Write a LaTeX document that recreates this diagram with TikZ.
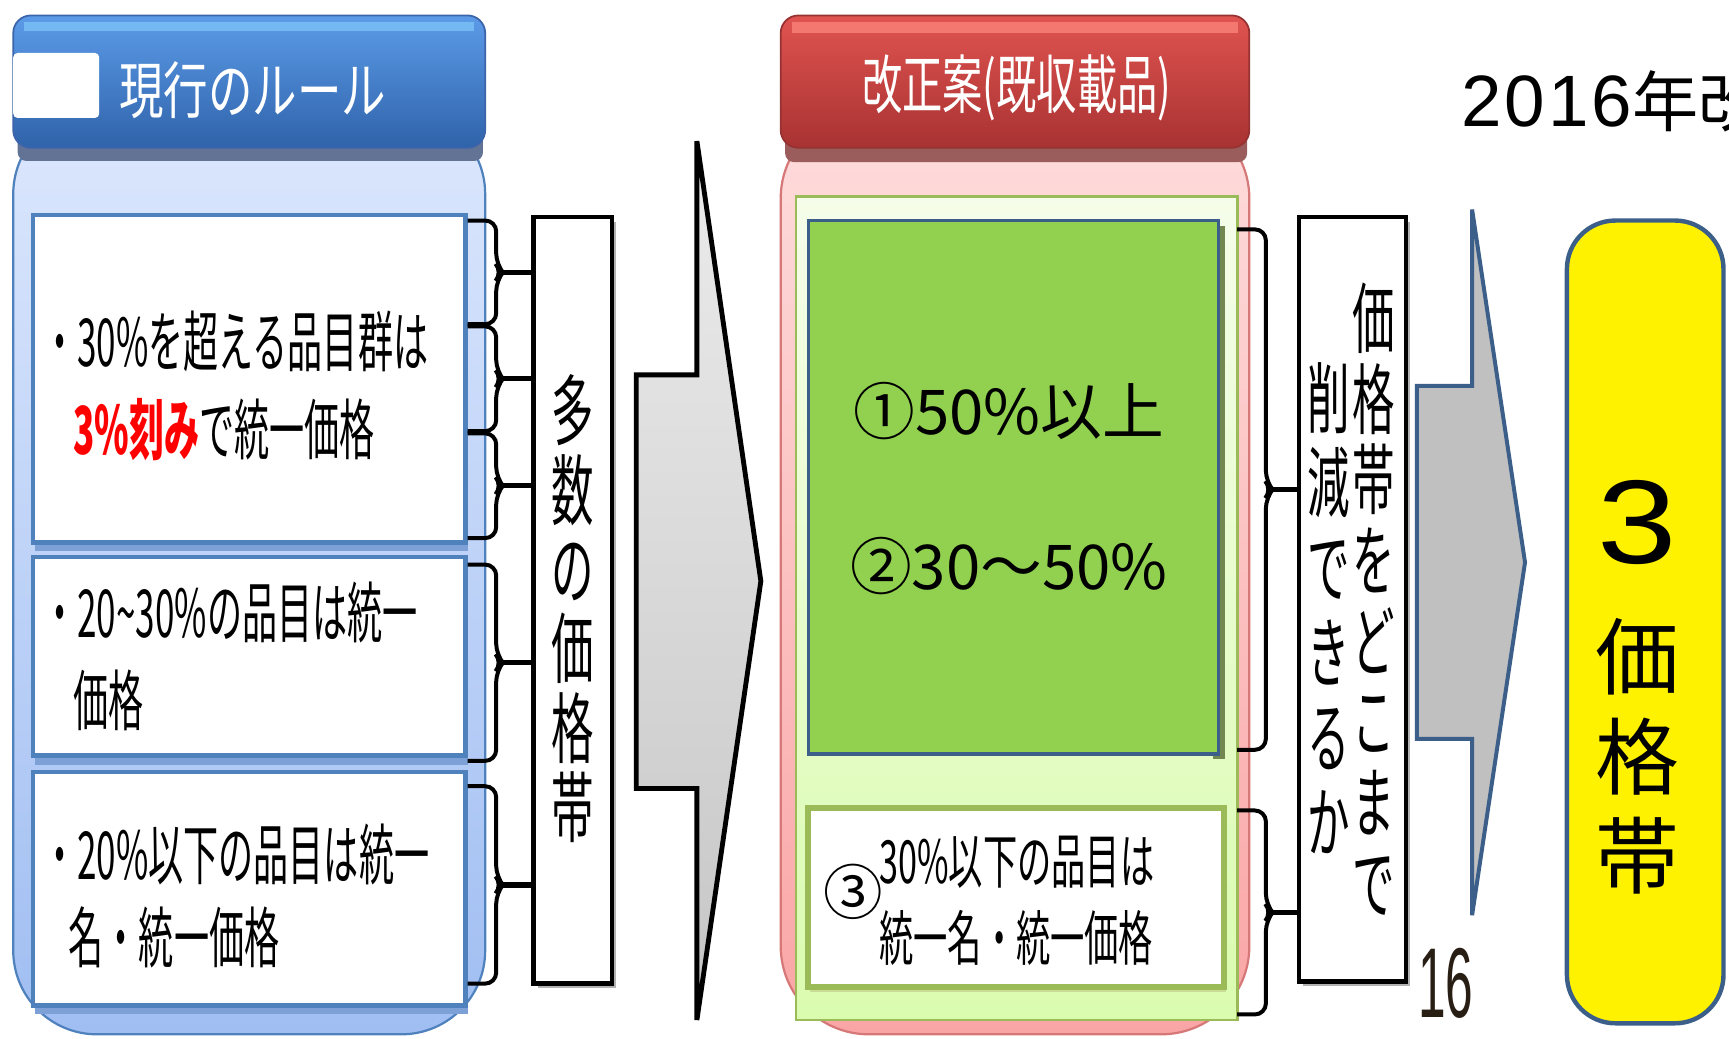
\documentclass[tikz,border=0pt]{standalone}
\usepackage{fontspec}
\setmainfont{Noto Sans CJK JP}
\newfontfamily\cond[FakeStretch=0.53]{Noto Sans CJK JP}
\newfontfamily\condt[FakeStretch=0.575]{Noto Sans CJK JP}
\newfontfamily\condv[FakeStretch=0.55]{Noto Sans CJK JP}
\newfontfamily\condh[FakeStretch=0.72]{Noto Sans CJK JP}
\newfontfamily\condhh[FakeStretch=0.63]{Noto Sans CJK JP}
\newfontfamily\arialf[LetterSpace=4]{Liberation Sans}
\newfontfamily\arialw[FakeStretch=1.2]{Liberation Sans}
\newfontfamily\arialc[FakeStretch=0.5]{Liberation Sans}
\definecolor{boxblue}{HTML}{4F81BD}
\definecolor{darkblue}{HTML}{3C5F8A}
\definecolor{hdrblueT}{HTML}{5C9BE8}
\definecolor{hdrblueB}{HTML}{2F63AA}
\definecolor{hdrredT}{HTML}{E05450}
\definecolor{hdrredB}{HTML}{A83232}
\definecolor{olive}{HTML}{9BBB59}
\definecolor{grassgreen}{HTML}{92D050}
\definecolor{panelblueT}{HTML}{DCE7FD}
\definecolor{panelblueB}{HTML}{A0BEF2}
\definecolor{hdrshadowB}{HTML}{627396}
\definecolor{hdredgeB}{HTML}{3C64AA}
\definecolor{glossB}{HTML}{82C8FA}
\definecolor{boxshadowB}{HTML}{7DA0D7}
\definecolor{pinkT}{HTML}{FEDCDC}
\definecolor{pinkB}{HTML}{FAA5A5}
\definecolor{pinkedge}{HTML}{D77878}
\definecolor{hdrshadowR}{HTML}{9B5C5C}
\definecolor{hdredgeR}{HTML}{963232}
\definecolor{glossR}{HTML}{FA8278}
\definecolor{lgreenT}{HTML}{F5FDEA}
\definecolor{lgreenB}{HTML}{DAFCAF}
\definecolor{greenshadow}{HTML}{738750}
\definecolor{b4shadow}{HTML}{C8DC96}
\definecolor{numbrown}{HTML}{281E14}
\definecolor{arrowgray}{HTML}{C0C0C0}
\tikzset{
  wbox/.style={draw=boxblue, line width=2pt, fill=white, inner sep=0},
  tbox/.style={draw=black, line width=2pt, fill=white, inner sep=0},
  brline/.style={line width=1.8pt, rounded corners=5, black},
  vtext/.style={font=\condv\fontsize{35pt}{36pt}\selectfont, align=center, inner sep=0},
  ltext/.style={font=\cond\fontsize{30pt}{32pt}\selectfont, anchor=west, inner sep=0},
}
\begin{document}
\begin{tikzpicture}[x=0.5pt,y=-0.5pt]
\useasboundingbox (0,0) rectangle (1568,942);
\clip (0,0) rectangle (1568,942);

% ---------- left panel ----------
\shade[top color=panelblueT, bottom color=panelblueB, draw=boxblue, line width=1pt, rounded corners=38]
  (12,100) rectangle (440,938);
\fill[fill=hdrshadowB, rounded corners=4] (16,120) rectangle (438,146);
\shade[top color=hdrblueT, bottom color=hdrblueB, rounded corners=8, draw=hdredgeB, line width=0.8pt]
  (12,14) rectangle (440,134);
\fill[fill=glossB, opacity=0.7] (22,20) rectangle (430,28);
\node[fill=white, inner sep=0, minimum width=39pt, minimum height=29.5pt, rounded corners=2] (wr) at (51,77.5) {};
\node[font=\condh\fontsize{28pt}{30pt}\selectfont, text=white, inner sep=0, anchor=west] (h1) at (108,82) {現行のルール};

% shadows of boxes
\fill[fill=boxshadowB] (32,490) rectangle (424,500);
\fill[fill=boxshadowB] (32,683) rectangle (424,694);
\fill[fill=boxshadowB] (32,910) rectangle (424,920);

\node[wbox, minimum width=196pt, minimum height=148.5pt] (b1) at (226,343.5) {};
\node[wbox, minimum width=196pt, minimum height=90pt] (b2) at (226,595) {};
\node[wbox, minimum width=196pt, minimum height=106pt] (b3) at (226,806) {};

\node[ltext] (t11) at (38,310) {・30\%を超える品目群は};
\node[ltext] (t12) at (66,390) {\textcolor{red}{\bfseries 3\%刻み}で統一価格};
\node[ltext] (t21) at (38,555) {・20\textasciitilde 30\%の品目は統一};
\node[ltext] (t22) at (66,635) {価格};
\node[ltext] (t31) at (38,775) {・20\%以下の品目は統一};
\node[ltext] (t32) at (62,850) {名・統一価格};

% text box 1
\fill[gray!60] (488,201) rectangle (559,896);
\node[tbox, minimum width=35.5pt, minimum height=347.5pt] (tb1) at (519.5,544.5) {};
\node[vtext] (v1) at (519.5,552) {多\\数\\の\\価\\格\\帯};

% braces left
\foreach \ya/\yb in {200/294, 296/391, 393/488, 512/690, 713/892}{
  \draw[brline] (424,\ya) -- (450,\ya) -- (450,{(\ya+\yb)/2-7}) -- (456,{(\ya+\yb)/2}) -- (450,{(\ya+\yb)/2+7}) -- (450,\yb) -- (424,\yb);
  \coordinate (bt) at (456,{(\ya+\yb)/2});
  \draw[line width=2.4pt] (bt) -- (tb1.west |- bt);
}

% ---------- arrow 1 ----------
\shade[top color=gray!15, bottom color=gray!45, draw=black, line width=2.2pt, line join=miter]
  (577,340) -- (632,340) -- (632,128) -- (690,527) -- (632,925) -- (632,715) -- (577,715) -- cycle;

% ---------- middle panel ----------
\shade[top color=pinkT, bottom color=pinkB, draw=pinkedge, line width=1pt, rounded corners=40]
  (708,100) rectangle (1133,938);
\fill[fill=hdrshadowR, rounded corners=4] (712,120) rectangle (1131,147);
\shade[top color=hdrredT, bottom color=hdrredB, rounded corners=8, draw=hdredgeR, line width=0.8pt]
  (708,14) rectangle (1133,134);
\fill[fill=glossR, opacity=0.8] (718,20) rectangle (1123,30);
\node[font=\condhh\fontsize{29pt}{30pt}\selectfont, text=white, inner sep=0] (h2) at (922,80) {改正案(既収載品)};

\shade[top color=lgreenT, bottom color=lgreenB, draw=olive, line width=1.2pt]
  (722,178) rectangle (1122,925);
\fill[fill=greenshadow] (1100,205) rectangle (1111,688);
\node[draw=darkblue, line width=1.6pt, fill=grassgreen, inner sep=0, minimum width=186pt, minimum height=242pt] (g) at (919,442) {};
\node[font=\fontsize{28pt}{30pt}\selectfont, inner sep=0] (g1) at (915,373) {①50\%以上};
\node[font=\fontsize{28pt}{30pt}\selectfont, inner sep=0] (g2) at (915,513) {②30～50\%};

\fill[fill=b4shadow] (735,893) rectangle (1112,900);
\node[draw=olive, line width=2.6pt, fill=white, inner sep=0, minimum width=188.5pt, minimum height=81pt] (b4) at (921.5,814) {};
\node[font=\fontsize{27pt}{30pt}\selectfont, inner sep=0] (c3) at (774,809) {③};
\node[font=\condt\fontsize{27pt}{35pt}\selectfont, inner sep=0, anchor=north west, align=left] (t4) at (797,758) {30\%以下の品目は\\統一名・統一価格};

% text box 2
\fill[gray!60] (1182,201) rectangle (1279,894);
\node[tbox, minimum width=48.5pt, minimum height=346.5pt] (tb2) at (1226.5,543.5) {};
\node[vtext, anchor=north, font=\condv\fontsize{35pt}{36.6pt}\selectfont] (v2r) at (1246,256) {価\\格\\帯\\を\\ど\\こ\\ま\\で};
\node[vtext, anchor=north, font=\condv\fontsize{35pt}{38.5pt}\selectfont] (v2l) at (1205,328) {削\\減\\で\\き\\る\\か};

% braces middle
\foreach \ya/\yb in {208/680, 735/920}{
  \draw[brline] (1122,\ya) -- (1148,\ya) -- (1148,{(\ya+\yb)/2-7}) -- (1154,{(\ya+\yb)/2}) -- (1148,{(\ya+\yb)/2+7}) -- (1148,\yb) -- (1122,\yb);
  \coordinate (bt) at (1154,{(\ya+\yb)/2});
  \draw[line width=2.4pt] (bt) -- (tb2.west |- bt);
}

\node[font=\arialc\fontsize{45pt}{46pt}\selectfont, inner sep=0, text=numbrown] (n16) at (1311,892) {16};

% ---------- arrow 2 ----------
\fill[fill=arrowgray, draw=darkblue, line width=1.8pt, line join=miter]
  (1285,350) -- (1335,350) -- (1335,190) -- (1383,510) -- (1335,830) -- (1335,670) -- (1285,670) -- cycle;

% ---------- yellow box ----------
\node[draw=darkblue, line width=2pt, fill=yellow, rounded corners=22, inner sep=0, minimum width=71pt, minimum height=364pt] (y) at (1492,564) {};
\node[font=\arialw\fontsize{54pt}{56pt}\selectfont, inner sep=0] (y3) at (1485,474) {3};
\node[font=\fontsize{38pt}{45pt}\selectfont, inner sep=0, align=center] (yk) at (1485,686) {価\\格\\帯};

\node[inner sep=0, anchor=west] (yr) at (1325,92) {\arialf\fontsize{33pt}{34pt}\selectfont 2016\fontspec{Noto Sans CJK JP}\fontsize{30pt}{34pt}\selectfont 年改};
\end{tikzpicture}
\end{document}
